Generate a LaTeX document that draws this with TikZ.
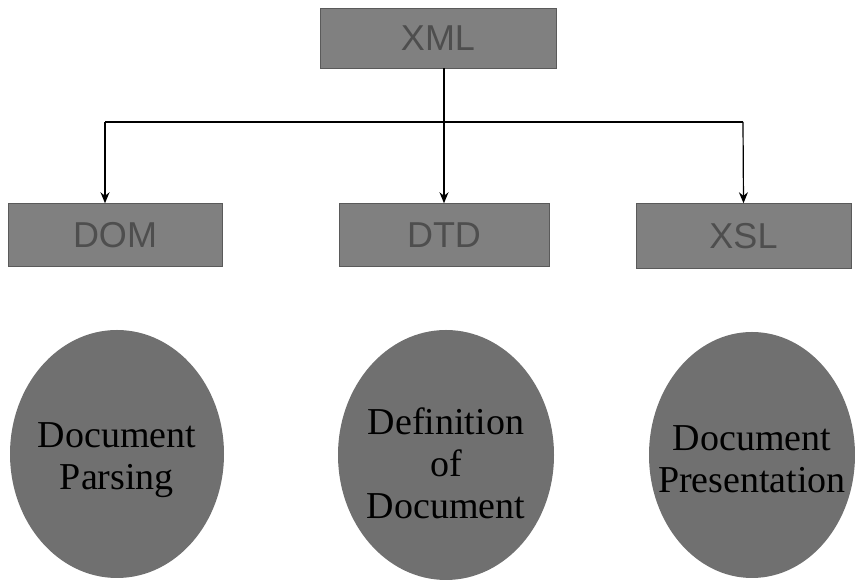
\documentclass[tikz,border=0pt]{standalone}
\usepackage{fontspec}
\setmainfont{Liberation Serif}
\newfontfamily\boxfont{Liberation Sans}
\usetikzlibrary{shapes.geometric,arrows.meta}
\definecolor{boxgray}{RGB}{128,128,128}
\definecolor{ellgray}{RGB}{112,112,112}
\definecolor{boxtext}{RGB}{78,78,78}
\tikzset{
  topbox/.style={rectangle, fill=boxgray, draw=boxgray!70!black, line width=0.5pt, inner sep=0pt,
    font=\boxfont\fontsize{36}{40}\selectfont, text=boxtext},
  topic/.style={ellipse, fill=ellgray, inner sep=0pt},
  topictext/.style={align=center, inner sep=0pt, font=\fontsize{38}{42}\selectfont, text=black},
  link/.style={line width=1.2pt, draw=black},
  arr/.style={link, -{Stealth[length=11pt,width=9pt]}}
}
\begin{document}
\begin{tikzpicture}[x=1pt,y=1pt]
\useasboundingbox (0,0) rectangle (855,580);
\node[topbox, minimum width=236pt, minimum height=60pt] (xml) at (438,542) {XML};
\node[topbox, minimum width=214pt, minimum height=63pt] (dom) at (115,345) {DOM};
\node[topbox, minimum width=210pt, minimum height=63pt] (dtd) at (444,345) {DTD};
\node[topbox, minimum width=215pt, minimum height=65pt] (xsl) at (743.5,344) {XSL};
\node[topic, minimum width=214pt, minimum height=248pt] (e1) at (117,126) {};
\node[topic, minimum width=216pt, minimum height=250pt] (e2) at (446,125) {};
\node[topic, minimum width=206pt, minimum height=246pt] (e3) at (752,125) {};
\node[topictext] (t1) at ([yshift=-6pt]e1.center) {Document\\Parsing};
\node[topictext] (t2) at ([yshift=-8pt]e2.center) {Definition\\of\\Document};
\node[topictext] (t3) at ([yshift=-4pt]e3.center) {Document\\Presentation};
\coordinate (busL) at (105,458);
\coordinate (bus) at (444,458);
\coordinate (busR) at (743,458);
\draw[link] (xml.south -| bus) -- (bus);
\draw[link] (busL) -- (busR);
\draw[arr] (busL) -- (busL |- dom.north);
\draw[arr] (bus) -- (dtd.north);
\draw[arr] (busR) -- (xsl.north);
\end{tikzpicture}
\end{document}
